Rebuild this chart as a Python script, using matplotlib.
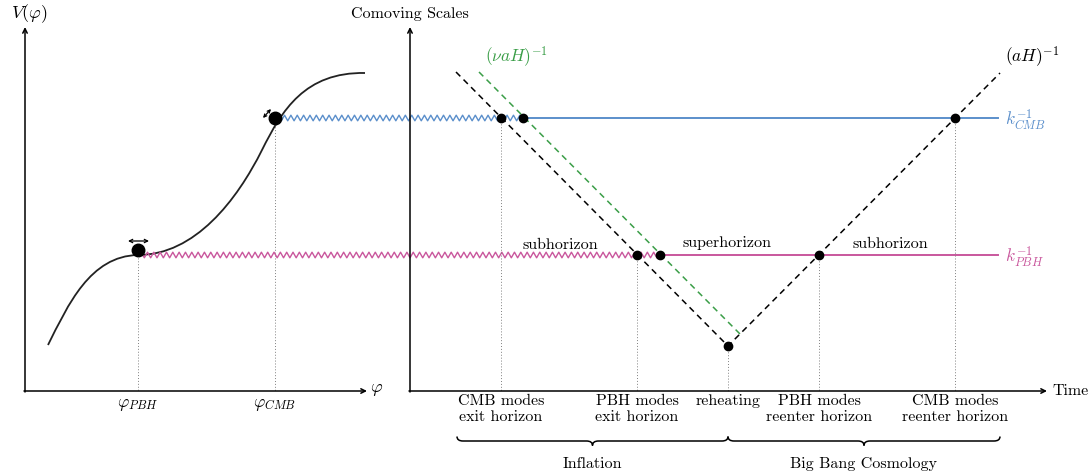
import numpy as np
import matplotlib.pyplot as plt
from matplotlib.path import Path
from matplotlib.patches import PathPatch

plt.rcParams['font.family'] = 'cmr10'
plt.rcParams['mathtext.fontset'] = 'cm'
plt.rcParams['axes.unicode_minus'] = False

# diagram coordinates (pixel-like units, y grows downward)
y_cmb = 118
y_pbh = 255
phi_pbh = 138
phi_cmb = 275

# potential V(phi), cubic bezier control points
pot_x = [48, 68, 90, 138, 195, 237, 262, 282, 305, 365]
pot_y = [345, 305, 256, 255, 255, 200, 150, 110, 72, 73]

# comoving horizon (aH)^-1 and (nu aH)^-1
aH_x = [456, 728, 1000]
aH_y = [72, 346, 73]
nuaH_x = [479, 740]
nuaH_y = [72, 334]

exit_x = [501, 637]
exit_nu_x = [523, 660]
reenter_x = [819, 955]
reheat_x = 728
reheat_y = 346

time_labels = ['CMB modes\nexit horizon', 'PBH modes\nexit horizon', 'reheating',
               'PBH modes\nreenter horizon', 'CMB modes\nreenter horizon']
time_x = [501, 637, 728, 819, 955]

blue = '#5b8fcb'
pink = '#c9579d'
green = '#3b9e48'


def zigzag(x0, x1, y, period=6.3, amp=2.8):
    n = int((x1 - x0) / (period / 2))
    xs = np.linspace(x0, x1, n + 1)
    ys = y + amp * np.array([(-1) ** i for i in range(n + 1)])
    ys[0] = y
    ys[-1] = y
    return xs, ys


def brace(ax, x0, x1, y, h=4.5, r=6):
    xm = (x0 + x1) / 2
    verts = [(x0, y - h), (x0, y), (x0 + r, y),
             (xm - r, y), (xm, y), (xm, y + h),
             (xm, y), (xm + r, y),
             (x1 - r, y), (x1, y), (x1, y - h)]
    codes = [Path.MOVETO, Path.CURVE3, Path.CURVE3,
             Path.LINETO, Path.CURVE3, Path.CURVE3,
             Path.CURVE3, Path.CURVE3,
             Path.LINETO, Path.CURVE3, Path.CURVE3]
    ax.add_patch(PathPatch(Path(verts, codes), fill=False, lw=1.1, color='black'))


def arrow(ax, p0, p1, style='->', lw=1.1, ms=8):
    ax.annotate('', xy=p1, xytext=p0,
                arrowprops=dict(arrowstyle=style, lw=lw, color='black',
                                mutation_scale=ms, shrinkA=0, shrinkB=0))


fig = plt.figure(figsize=(10.9, 4.74), dpi=100)
ax = fig.add_axes([0, 0, 1, 1])
ax.set_xlim(0, 1090)
ax.set_ylim(474, 0)
ax.axis('off')

# axes of both panels
arrow(ax, (25, 392), (25, 27))
arrow(ax, (24, 391), (367, 391))
arrow(ax, (410, 392), (410, 27))
arrow(ax, (409, 391), (1047, 391))

ax.text(29, 14, r'$V(\varphi)$', fontsize=13, ha='center', va='center')
ax.text(370, 390, r'$\varphi$', fontsize=13, ha='left', va='center')
ax.text(410, 14, 'Comoving Scales', fontsize=11.5, ha='center', va='center')
ax.text(1052, 391, 'Time', fontsize=11.5, ha='left', va='center')

# potential
codes = [Path.MOVETO] + [Path.CURVE4] * (len(pot_x) - 1)
ax.add_patch(PathPatch(Path(list(zip(pot_x, pot_y)), codes), fill=False,
                       lw=1.3, color='#222222'))

for xv, yv in [(phi_pbh, y_pbh), (phi_cmb, y_cmb)]:
    ax.plot([xv, xv], [yv, 391], ls=(0, (1, 2)), color='gray', lw=0.7)
ax.text(phi_pbh, 405, r'$\varphi_{PBH}$', fontsize=12.5, ha='center', va='center')
ax.text(phi_cmb, 405, r'$\varphi_{CMB}$', fontsize=12.5, ha='center', va='center')

ax.plot(phi_pbh, y_pbh - 5, 'o', color='black', ms=9, zorder=5)
ax.plot(phi_cmb, y_cmb, 'o', color='black', ms=9, zorder=5)
arrow(ax, (128, 241), (149, 241), style='<->', lw=0.9, ms=6)
arrow(ax, (263, 118), (271, 109), style='<->', lw=0.9, ms=5)

# modes: zigzag while subhorizon, straight after exit
zx, zy = zigzag(phi_cmb, exit_nu_x[0], y_cmb)
ax.plot(zx, zy, color=blue, lw=1.0)
ax.plot([exit_nu_x[0], 998], [y_cmb, y_cmb], color=blue, lw=1.4)
zx, zy = zigzag(phi_pbh, exit_nu_x[1], y_pbh)
ax.plot(zx, zy, color=pink, lw=1.0)
ax.plot([exit_nu_x[1], 998], [y_pbh, y_pbh], color=pink, lw=1.4)

ax.text(1005, y_cmb + 2, r'$k_{CMB}^{-1}$', fontsize=12.5, color=blue, ha='left', va='center')
ax.text(1005, y_pbh + 2, r'$k_{PBH}^{-1}$', fontsize=12.5, color=pink, ha='left', va='center')

# horizons
ax.plot(aH_x, aH_y, color='black', lw=1.1, ls=(0, (4, 3)))
ax.plot(nuaH_x, nuaH_y, color=green, lw=1.1, ls=(0, (4, 3)))
ax.text(1005, 57, r'$(aH)^{-1}$', fontsize=12.5, ha='left', va='center')
ax.text(485, 57, r'$(\nu aH)^{-1}$', fontsize=12.5, color=green, ha='left', va='center')

# crossing points
ax.plot(exit_x + [reheat_x] + reenter_x, [y_cmb, y_pbh, reheat_y, y_pbh, y_cmb],
        'o', color='black', ms=6, zorder=5, ls='none')
ax.plot(exit_nu_x, [y_cmb, y_pbh], 'o', color='black', ms=6, zorder=5, ls='none')
for xv, yv in zip(exit_x + [reheat_x] + reenter_x, [y_cmb, y_pbh, reheat_y, y_pbh, y_cmb]):
    ax.plot([xv, xv], [yv, 391], ls=(0, (1, 2)), color='gray', lw=0.7)

ax.text(560, 245, 'subhorizon', fontsize=11.5, ha='center', va='center')
ax.text(727, 243, 'superhorizon', fontsize=11.5, ha='center', va='center')
ax.text(890, 244, 'subhorizon', fontsize=11.5, ha='center', va='center')

for lab, xv in zip(time_labels, time_x):
    ax.text(xv, 394, lab, fontsize=11.5, ha='center', va='top', linespacing=1.25)

# braces for the two eras
brace(ax, 457, reheat_x, 441)
brace(ax, reheat_x, 1000, 441)
ax.text((457 + reheat_x) / 2, 464, 'Inflation', fontsize=11.5, ha='center', va='center')
ax.text((reheat_x + 1000) / 2, 464, 'Big Bang Cosmology', fontsize=11.5, ha='center', va='center')

plt.savefig('out.png', dpi=100)
